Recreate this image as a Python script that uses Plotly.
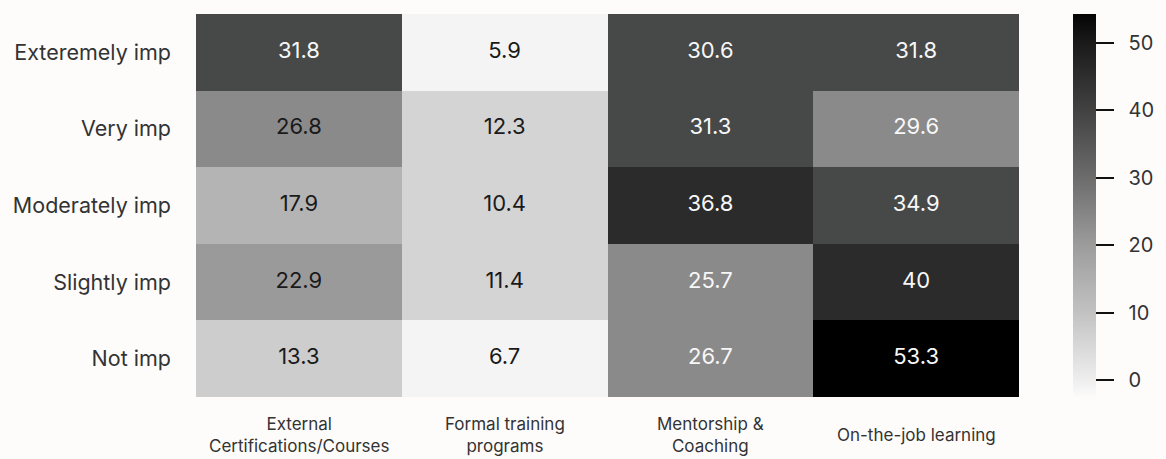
import plotly.graph_objects as go

categories = ["External<br>Certifications/Courses", "Formal training<br>programs",
              "Mentorship &<br>Coaching", "On-the-job learning"]
levels = ["Exteremely imp", "Very imp", "Moderately imp", "Slightly imp", "Not imp"]

external = [31.8, 26.8, 17.9, 22.9, 13.3]
formal = [5.9, 12.3, 10.4, 11.4, 6.7]
mentorship = [30.6, 31.3, 36.8, 25.7, 26.7]
on_the_job = [31.8, 29.6, 34.9, 40, 53.3]

colorbar_ticks = [0, 10, 20, 30, 40, 50]

# style: quantized cell shading
bin_edges = [0, 10, 13, 15, 20, 25, 30, 36, 45, 60]
bin_colors = ['#f4f4f5', '#d4d4d4', '#cdcdcd', '#b4b4b4', '#9a9a9a',
              '#8a8a8a', '#474948', '#2b2b2b', '#000000']
# style: text colour per column
col_text_dark = [True, True, False, False]

z = [[external[i], formal[i], mentorship[i], on_the_job[i]] for i in range(len(levels))]

zmin, zmax = bin_edges[0], bin_edges[-1]
cs = []
for lo, hi, c in zip(bin_edges[:-1], bin_edges[1:], bin_colors):
    cs.append([(lo - zmin) / (zmax - zmin), c])
    cs.append([(hi - zmin) / (zmax - zmin), c])

FONT = "Inter"
TXT = "#333333"

fig = go.Figure()
fig.add_trace(go.Heatmap(
    z=z, x=categories, y=levels, colorscale=cs, zmin=zmin, zmax=zmax,
    showscale=False, hoverinfo="skip", xgap=0, ygap=0,
))

tx, ty, tt, tc = [], [], [], []
for i, lv in enumerate(levels):
    for j, cat in enumerate(categories):
        v = z[i][j]
        tx.append(cat)
        ty.append(lv)
        tt.append(f"{v:g}")
        dark = col_text_dark[j] and not (j == 0 and v > 30)
        tc.append("#1a1a1a" if dark else "#f7f7f7")
fig.add_trace(go.Scatter(
    x=tx, y=ty, text=tt, mode="text",
    textfont=dict(family=FONT, size=22, color=tc),
    hoverinfo="skip", showlegend=False,
))

cb_min, cb_max = -2.5, 54.3
cb_scale = [[0, '#fbfbfb'], [0.044, '#eeeeee'], [0.22, '#c2c2c2'], [0.396, '#9c9c9c'],
            [0.572, '#6c6c6c'], [0.748, '#424242'], [0.924, '#1a1a1a'], [1, '#050505']]
cb_common = dict(thickness=23, len=1, lenmode="fraction", y=0.5, yanchor="middle",
                 x=(1076 - 196) / 826, xanchor="left", xpad=0, ypad=0,
                 outlinewidth=0, ticks="outside", tickvals=colorbar_ticks)
# bottom colorbar: visible short tick marks only
fig.add_trace(go.Scatter(
    x=[None], y=[None], mode="markers", showlegend=False, hoverinfo="skip",
    marker=dict(color=[0], colorscale=cb_scale, cmin=cb_min, cmax=cb_max, showscale=True,
                colorbar=dict(**cb_common, ticklen=18, tickwidth=2, tickcolor="#111",
                              showticklabels=False)),
))
# top colorbar: gradient and labels (pushed out by invisible long ticks)
fig.add_trace(go.Scatter(
    x=[None], y=[None], mode="markers", showlegend=False, hoverinfo="skip",
    marker=dict(color=[0], colorscale=cb_scale, cmin=cb_min, cmax=cb_max, showscale=True,
                colorbar=dict(**cb_common, ticklen=29, tickwidth=1,
                              tickcolor="rgba(0,0,0,0)",
                              tickfont=dict(family=FONT, size=20, color=TXT))),
))

# x category labels, vertically centred below each column
for cat in categories:
    fig.add_annotation(x=cat, y=0, xref="x", yref="paper", yanchor="middle",
                       xanchor="center", yshift=-38, showarrow=False, text=cat,
                       font=dict(family=FONT, size=17, color=TXT))

fig.update_layout(
    width=1166, height=459,
    margin=dict(l=196, r=144, t=14, b=62),
    paper_bgcolor="#fdfcfb", plot_bgcolor="#fdfcfb",
    font=dict(family=FONT, color=TXT),
    showlegend=False,
)
fig.update_xaxes(showgrid=False, zeroline=False, showline=False, ticks="",
                 showticklabels=False, automargin=False, fixedrange=True)
fig.update_yaxes(showgrid=False, zeroline=False, showline=False, ticks="",
                 autorange="reversed", automargin=False,
                 tickfont=dict(family=FONT, size=21.5, color=TXT),
                 ticklabelstandoff=24, fixedrange=True)

fig.write_html("out.html", config={"displayModeBar": False},
               post_script="document.body.style.margin='0';document.body.style.background='#fdfcfb';")
